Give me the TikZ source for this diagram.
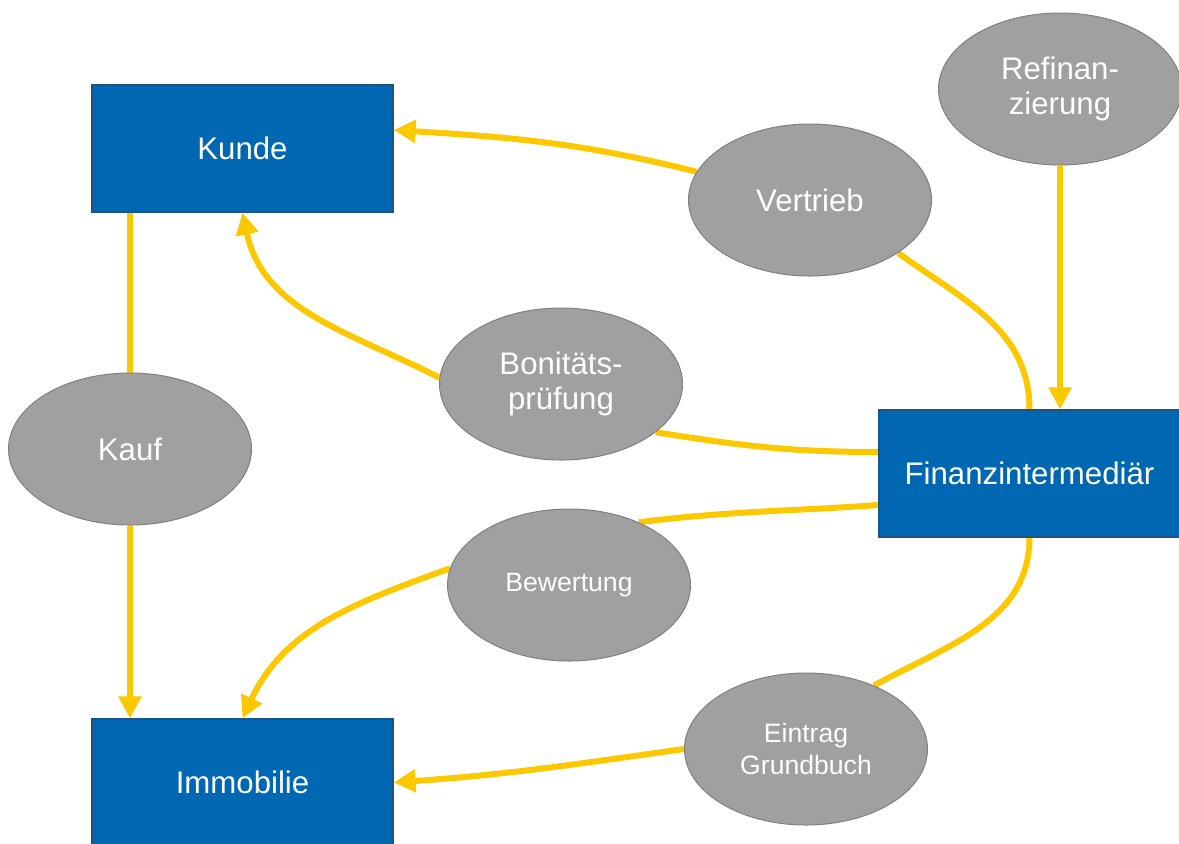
\documentclass[tikz,border=0pt]{standalone}
\usepackage{fontspec}
\setmainfont{Liberation Sans}
\usetikzlibrary{arrows.meta,shapes.geometric,backgrounds}
\definecolor{boxblue}{RGB}{0,103,178}
\definecolor{boxedge}{RGB}{30,84,130}
\definecolor{ellgray}{RGB}{160,160,160}
\definecolor{elledge}{RGB}{128,128,128}
\definecolor{flowyellow}{RGB}{252,200,0}
\begin{document}
\begin{tikzpicture}[x=0.5pt,y=-0.5pt,
  boxnode/.style={draw=boxedge,line width=0.6pt,fill=boxblue,text=white,
    minimum width=150.5pt,minimum height=63.5pt,inner sep=0pt,
    font=\fontsize{15.6}{17.5}\selectfont},
  ellnode/.style={ellipse,draw=elledge,line width=0.5pt,fill=ellgray,text=white,
    minimum width=121.5pt,minimum height=76pt,inner sep=0pt,align=center,
    font=\fontsize{15.6}{17.8}\selectfont},
  smallell/.style={ellnode,font=\fontsize{13.3}{16}\selectfont},
  flow/.style={draw=flowyellow,line width=3pt},
  flowarrow/.style={flow,-{Triangle[length=11pt,width=11pt]}}]
\useasboundingbox (0,0) rectangle (1179,843);

\node[boxnode] (kunde) at (242.5,148.5) {Kunde};
\node[boxnode] (immo) at (242.5,782.5) {Immobilie};
\node[boxnode] (fin) at (1029.5,473.5) {Finanzintermediär};

\node[ellnode] (refi) at (1060,89) {Refinan-\\zierung};
\node[ellnode] (vert) at (810,200) {Vertrieb};
\node[ellnode] (boni) at (561,384) {Bonitäts-\\prüfung};
\node[ellnode] (kauf) at (130,449) {Kauf};
\node[smallell] (bew) at (569,585) {Bewertung};
\node[smallell] (eintr) at (806,749) {Eintrag\\Grundbuch};

\begin{scope}[on background layer]
\fill[white] (0,0) rectangle (1179,843);
\draw[flowarrow] (vert.166) to[out=166,in=-3.5] ([yshift=9.25pt]kunde.east);
\draw[flow] (fin.north) to[out=90,in=-36] (vert.-31);
\draw[flowarrow] (refi.south) -- (refi.south |- fin.north);
\draw[flowarrow] (boni.177) to[out=153,in=-78] (kunde.south);
\draw[flow] ([yshift=10.75pt]fin.west) to[out=180,in=-9] (boni.-27);
\draw[flow] (kauf.north |- kunde.south) -- (kauf.north);
\draw[flowarrow] (kauf.south) -- (kauf.south |- immo.north);
\draw[flow] ([yshift=-15.75pt]fin.west) to[out=184,in=7] (bew.42);
\draw[flowarrow] (bew.172) to[out=200,in=65] (immo.north);
\draw[flow] (fin.south) to[out=-90,in=29] (eintr.43);
\draw[flowarrow] (eintr.180) to[out=188,in=4] (immo.east);
\end{scope}
\end{tikzpicture}
\end{document}
